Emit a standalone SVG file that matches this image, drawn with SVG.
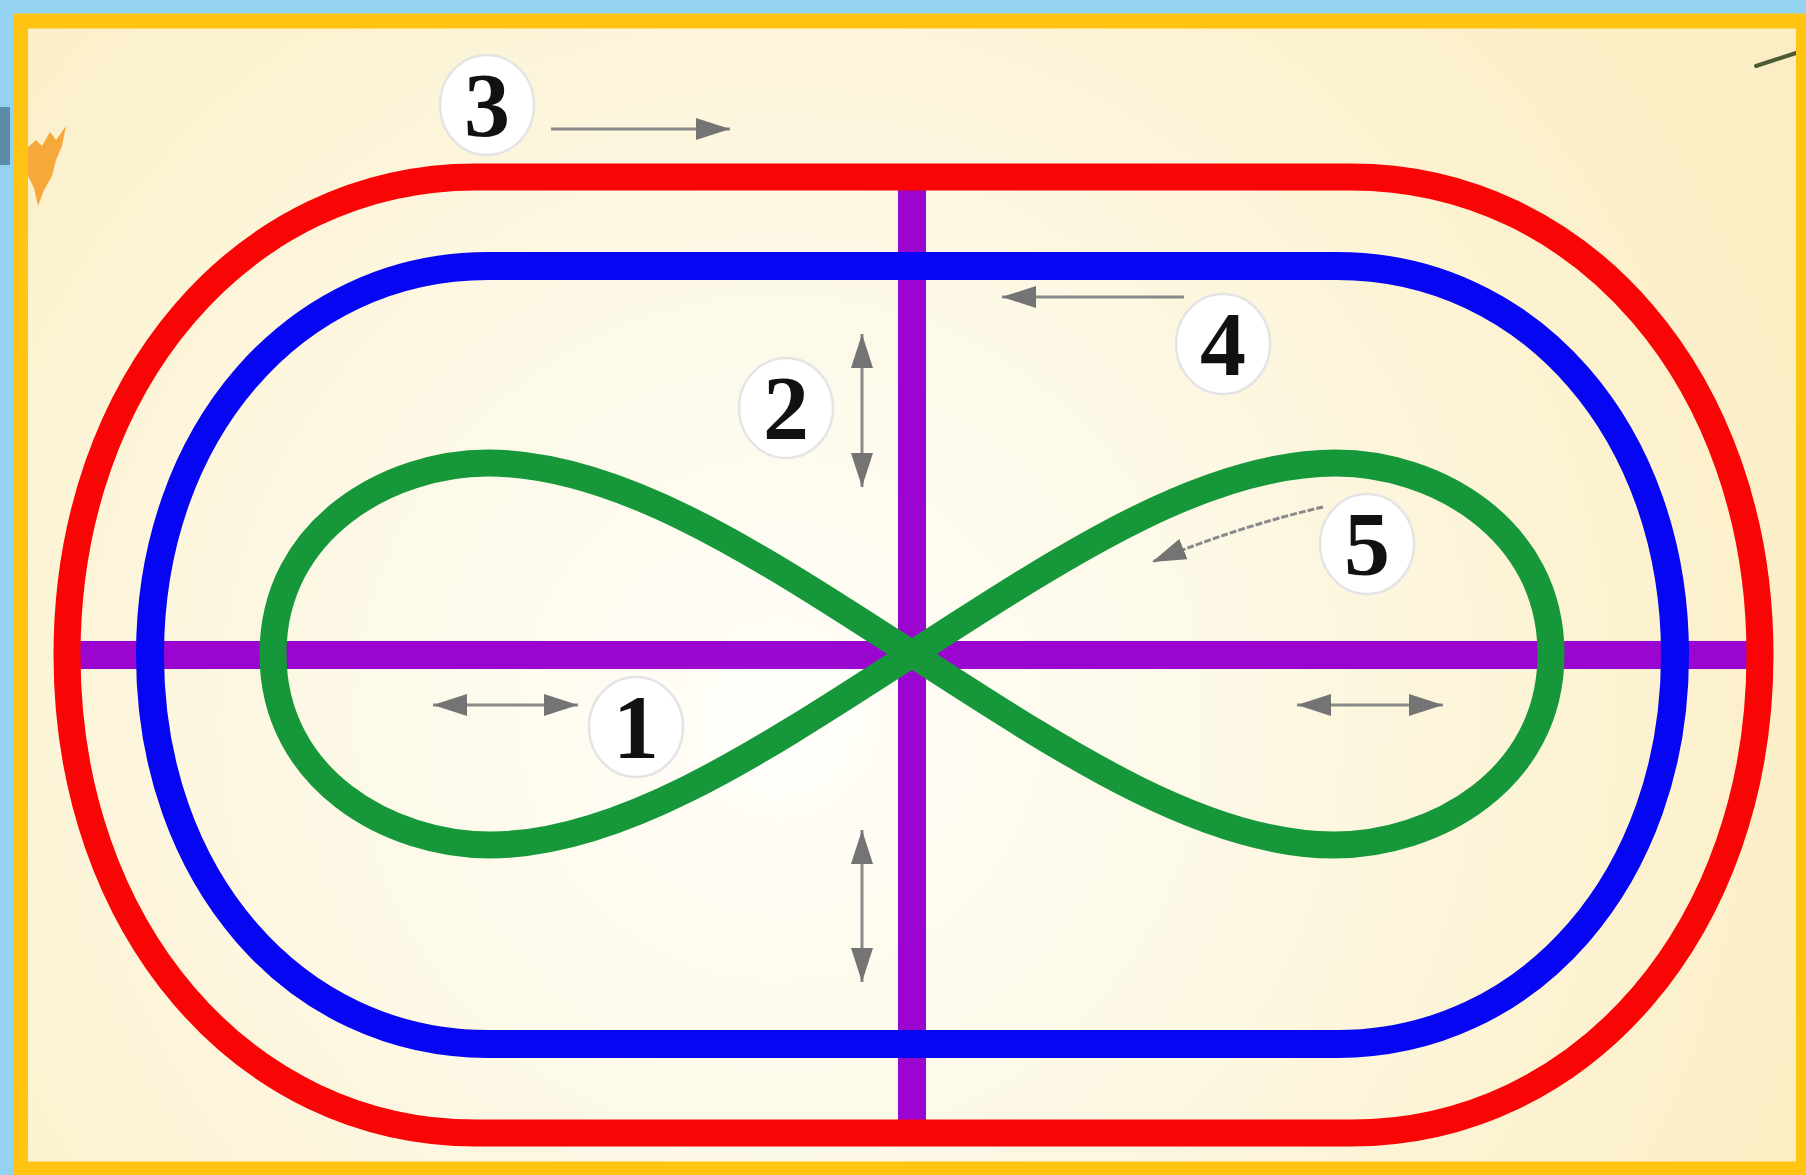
<svg xmlns="http://www.w3.org/2000/svg" width="1806" height="1175" viewBox="0 0 1806 1175">
  <defs>
    <radialGradient id="bg" cx="780" cy="720" r="1100" gradientUnits="userSpaceOnUse">
      <stop offset="0" stop-color="#fffefa"/>
      <stop offset="0.45" stop-color="#fdf8e4"/>
      <stop offset="1" stop-color="#fbeec4"/>
    </radialGradient>
    <marker id="ah" markerUnits="userSpaceOnUse" viewBox="0 0 34 22" markerWidth="34" markerHeight="22" refX="34" refY="11" orient="auto-start-reverse">
      <path d="M0,0 L34,11 L0,22 z" fill="#747474"/>
    </marker>
    <style>
      .track { fill: none; stroke-linejoin: round; }
      .lbl-circle { fill: #ffffff; stroke: #e4e4e4; stroke-width: 2.5; }
      .lbl-text { font-family: "Liberation Serif", "Times New Roman", serif; font-weight: bold; font-size: 92px; fill: #111111; text-anchor: middle; }
      .arrow { fill: none; stroke: #8a8a8a; stroke-width: 3; }
    </style>
  </defs>

  <!-- backdrop -->
  <rect x="0" y="0" width="1806" height="1175" fill="#94d3ef"/>
  <rect x="0" y="107" width="10" height="58" fill="#5d8cab"/>
  <rect x="20" y="21" width="1786" height="1148" fill="url(#bg)"/>
  <path d="M27 148 L36 140 L42 146 L50 132 L56 140 L66 126 L62 146 L56 160 L52 176 L44 190 L38 206 L34 188 L28 176 Z" fill="#f5a02a" opacity="0.9"/>
  <line x1="1756" y1="66" x2="1796" y2="53" stroke="#4d5a36" stroke-width="4" stroke-linecap="round"/>
  <rect x="20.5" y="21" width="1783" height="1148" fill="none" stroke="#ffc412" stroke-width="15"/>

  <!-- purple cross -->
  <g id="cross-lines">
    <line x1="67" y1="655" x2="1760" y2="655" stroke="#9a05cf" stroke-width="28"/>
    <line x1="912" y1="177" x2="912" y2="1133" stroke="#9a05cf" stroke-width="28"/>
  </g>

  <!-- red outer track -->
  <g id="red-track">
    <path class="track" stroke="#fa0505" stroke-width="27" d="M 476 177 H 1351 C 1584 177 1760 383 1760 655 C 1760 927 1584 1133 1351 1133 H 476 C 243 1133 67 927 67 655 C 67 383 243 177 476 177 Z"/>
  </g>

  <!-- blue inner track -->
  <g id="blue-track">
    <path class="track" stroke="#0606f2" stroke-width="28" d="M 488 266 H 1337 C 1530 266 1675 433 1675 655 C 1675 877 1530 1044 1337 1044 H 488 C 295 1044 150 877 150 655 C 150 433 295 266 488 266 Z"/>
  </g>

  <!-- green figure eight -->
  <g id="green-eight">
    <path class="track" stroke="#16983a" stroke-width="27" d="M 912 654 C 760 556 620 463 488 463 C 390 463 273 528 273 654 C 273 780 390 845 490 845 C 620 845 760 752 912 654 C 1064 556 1204 463 1336 463 C 1434 463 1551 528 1551 654 C 1551 780 1434 845 1334 845 C 1204 845 1064 752 912 654 Z"/>
  </g>

  <!-- direction arrows -->
  <g id="connectors">
    <line class="arrow" x1="551" y1="129" x2="730" y2="129" marker-end="url(#ah)"/>
    <line class="arrow" x1="1184" y1="297" x2="1002" y2="297" marker-end="url(#ah)"/>
    <line class="arrow" x1="862" y1="334" x2="862" y2="487" marker-start="url(#ah)" marker-end="url(#ah)"/>
    <line class="arrow" x1="862" y1="830" x2="862" y2="982" marker-start="url(#ah)" marker-end="url(#ah)"/>
    <line class="arrow" x1="433" y1="705" x2="578" y2="705" marker-start="url(#ah)" marker-end="url(#ah)"/>
    <line class="arrow" x1="1297" y1="705" x2="1443" y2="705" marker-start="url(#ah)" marker-end="url(#ah)"/>
    <path class="arrow" stroke-dasharray="7 2" d="M 1323 507 Q 1240 526 1152 562" marker-end="url(#ah)"/>
  </g>

  <!-- number labels -->
  <g id="label-1">
    <ellipse class="lbl-circle" cx="636" cy="727" rx="47" ry="50"/>
    <text class="lbl-text" x="636" y="758">1</text>
  </g>
  <g id="label-2">
    <ellipse class="lbl-circle" cx="786" cy="408" rx="47" ry="50"/>
    <text class="lbl-text" x="786" y="439">2</text>
  </g>
  <g id="label-3">
    <ellipse class="lbl-circle" cx="487" cy="105" rx="47" ry="50"/>
    <text class="lbl-text" x="487" y="136">3</text>
  </g>
  <g id="label-4">
    <ellipse class="lbl-circle" cx="1223" cy="344" rx="47" ry="50"/>
    <text class="lbl-text" x="1223" y="375">4</text>
  </g>
  <g id="label-5">
    <ellipse class="lbl-circle" cx="1367" cy="544" rx="47" ry="50"/>
    <text class="lbl-text" x="1367" y="575">5</text>
  </g>
</svg>
